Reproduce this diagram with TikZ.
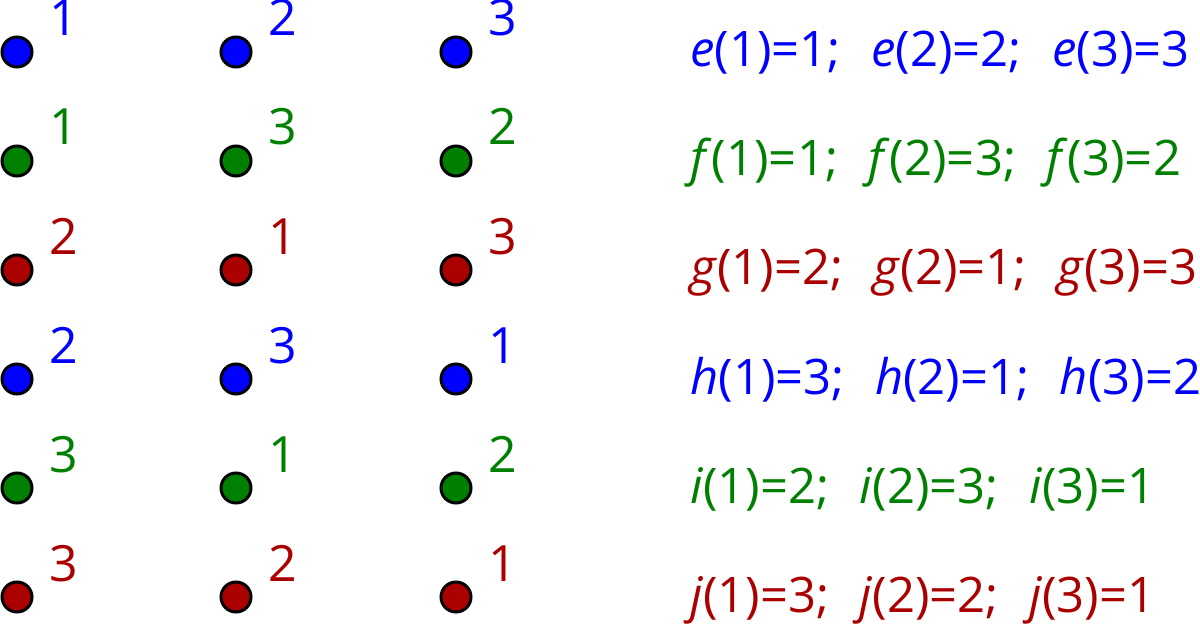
\documentclass[tikz,border=0pt]{standalone}
\usepackage{fontspec}
\setmainfont{Open Sans}
\usetikzlibrary{calc}

\definecolor{Blu}{HTML}{0000FF}
\definecolor{Grn}{HTML}{008000}
\definecolor{Rd}{HTML}{AA0000}

\tikzset{Dot/.style = {circle, draw=black, line width=1.5pt,
                       minimum size=15pt, inner sep=0pt},
         Num/.style = {anchor=base west, inner sep=0pt,
                       font=\fontsize{25}{25}\selectfont},
         Map/.style = {anchor=base west, inner sep=0pt,
                       font=\fontsize{24.5}{24.5}\selectfont}}

\begin{document}
\begin{tikzpicture}[x=0.5pt, y=-0.5pt]
	\useasboundingbox (0,0) rectangle (1200,626);

	% points and their images, one row per map
	\foreach \r/\yy/\col/\a/\b/\c/\f/\fa/\fb/\fc in
	    {1/52/Blu/1/2/3/e/1/2/3,
	     2/161/Grn/1/3/2/f/1/3/2,
	     3/270/Rd/2/1/3/g/2/1/3,
	     4/379/Blu/2/3/1/h/3/1/2,
	     5/488/Grn/3/1/2/i/2/3/1,
	     6/597/Rd/3/2/1/j/3/2/1}{
		\node (d\r a) at (17, \yy) [Dot, fill=\col]{};
		\node (d\r b) at (236, \yy) [Dot, fill=\col]{};
		\node (d\r c) at (456, \yy) [Dot, fill=\col]{};

		\node (n\r a) at ($(d\r a)+(32,-16)$) [Num, text=\col]{\a};
		\node (n\r b) at ($(d\r b)+(32,-16)$) [Num, text=\col]{\b};
		\node (n\r c) at ($(d\r c)+(32,-16)$) [Num, text=\col]{\c};

		% the map written out
		\node (m\r) at (690, \yy+15) [Map, text=\col]
		    {\textit{\f}(1)=\fa;\hspace{0.62em}\textit{\f}(2)=\fb;\hspace{0.62em}\textit{\f}(3)=\fc};
	}

\end{tikzpicture}
\end{document}
